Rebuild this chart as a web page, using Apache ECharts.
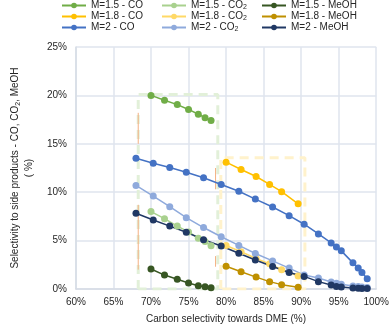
<!DOCTYPE html>
<html>
<head>
<meta charset="utf-8">
<script src="https://cdn.jsdelivr.net/npm/echarts@6/dist/echarts.min.js"></script>
<style>
  html, body { margin: 0; padding: 0; background: #fff; }
  #chart { width: 392px; height: 329px; }
</style>
</head>
<body>
<div id="chart"></div>
<script>
// carbon selectivity towards DME (%) for each stoichiometric number M
const x15 = [70.0, 71.8, 73.5, 75.0, 76.3, 77.2, 78.0]
const x18 = [80.0, 82.0, 84.0, 85.8, 87.4, 89.6]
const x2 = [68.0, 70.3, 72.5, 74.7, 77.0, 79.35, 81.7, 83.9, 86.2, 88.4, 90.4, 92.3, 94.0, 94.7, 95.35, 96.9, 97.6, 98.1, 98.8]

// side-product selectivity (%)
const co15 = [20.0, 19.5, 19.05, 18.55, 18.05, 17.7, 17.4]
const co2_15 = [8.0, 7.27, 6.5, 5.9, 5.25, 4.9, 4.46]
const meoh15 = [2.06, 1.44, 1.0, 0.62, 0.34, 0.24, 0.13]

const co18 = [13.1, 12.35, 11.62, 10.8, 10.05, 8.8]
const co2_18 = [4.5, 3.85, 3.15, 2.6, 2.0, 1.35]
const meoh18 = [2.35, 1.78, 1.23, 0.76, 0.45, 0.17]

const co2M = [13.5, 13.0, 12.55, 12.07, 11.5, 10.8, 10.1, 9.29, 8.47, 7.58, 6.69, 5.69, 4.76, 4.35, 3.94, 2.7, 2.16, 1.71, 1.06]
const co2_2 = [10.7, 9.6, 8.5, 7.37, 6.35, 5.4, 4.5, 3.67, 2.9, 2.16, 1.44, 1.13, 0.72, 0.6, 0.5, 0.3, 0.25, 0.2, 0.15]
const meoh2 = [7.82, 7.13, 6.5, 5.86, 5.1, 4.44, 3.7, 3.0, 2.33, 1.7, 1.3, 0.76, 0.41, 0.27, 0.2, 0.1, 0.08, 0.05, 0.05]

const names = [
  'M=1.5 - CO', 'M=1.5 - CO2', 'M=1.5 - MeOH',
  'M=1.8 - CO', 'M=1.8 - CO2', 'M=1.8 - MeOH',
  'M=2 - CO', 'M=2 - CO2', 'M=2 - MeOH'
]
const colors = [
  '#70ad47', '#a9d18e', '#375623',
  '#ffc000', '#ffd966', '#bf9000',
  '#4472c4', '#8faadc', '#203864'
]
const xs = [x15, x15, x15, x18, x18, x18, x2, x2, x2]
const ys = [co15, co2_15, meoh15, co18, co2_18, meoh18, co2M, co2_2, meoh2]

// highlighted regions (corners in axis units) and thin marker segments
const boxM15 = [[68.3, 0], [68.3, 20.1], [78.9, 20.1], [78.9, 0], [68.3, 0]]
const boxM18 = [[79.3, 0], [79.3, 13.55], [90.5, 13.55], [90.5, 0], [79.3, 0]]
const markSegs = [
  [[68.3, 18.2], [68.3, 15.0]],
  [[68.3, 8.7], [68.3, 2.0]],
  [[78.6, 12.5], [78.6, 10.3]],
  [[78.6, 3.4], [78.6, 2.3]]
]

const chart = echarts.init(document.getElementById('chart'))

const FONT = 'Liberation Sans, Arial'
const TXT = '#262626'
const fmtName = name => name.replace('CO2', 'CO{sub|2}')
const legendText = {
  fontFamily: FONT, fontSize: 10, color: TXT, lineHeight: 11,
  rich: { sub: { fontFamily: FONT, fontSize: 7, verticalAlign: 'bottom', padding: [5, 0, 0, 0], color: TXT } }
}
const legendCol = (left, idx) => ({
  left: left, top: 0, orient: 'vertical', padding: 0,
  itemWidth: 24, itemHeight: 7, itemGap: 0,
  data: idx.map(i => names[i]),
  formatter: fmtName,
  textStyle: legendText
})

const series = []
series.push({
  type: 'line', data: boxM15, symbol: 'none', silent: true, z: 1,
  lineStyle: { color: '#e2f0d9', width: 3, type: [9, 6] }
})
series.push({
  type: 'line', data: boxM18, symbol: 'none', silent: true, z: 1,
  lineStyle: { color: '#fff2cc', width: 3, type: [9, 6] }
})
markSegs.forEach(seg => series.push({
  type: 'line', data: seg, symbol: 'none', silent: true, z: 1,
  lineStyle: { color: '#f4b183', width: 1 }
}))
names.forEach((name, i) => series.push({
  name: name,
  type: 'line',
  data: xs[i].map((x, k) => [x, ys[i][k]]),
  symbol: 'circle',
  symbolSize: 7,
  z: 3,
  itemStyle: { color: colors[i] },
  lineStyle: { color: colors[i], width: 1.5 }
}))

const option = {
  animation: false,
  legend: [legendCol(61, [0, 3, 6]), legendCol(161, [1, 4, 7]), legendCol(261, [2, 5, 8])],
  grid: { left: 54, right: 14, top: 47, bottom: 39 },
  xAxis: {
    type: 'value', min: 60, max: 100, interval: 5,
    name: 'Carbon selectivity towards DME (%)',
    nameLocation: 'middle', nameGap: 25,
    nameTextStyle: { fontFamily: FONT, fontSize: 10, color: TXT },
    axisLine: { lineStyle: { color: '#d6dce5', width: 1.5 } },
    axisTick: { show: false },
    axisLabel: { formatter: '{value}%', fontFamily: FONT, fontSize: 10, color: TXT, margin: 8 },
    splitLine: { lineStyle: { color: '#dfe4ee', width: 1.5 } }
  },
  yAxis: {
    type: 'value', min: 0, max: 25, interval: 5,
    name: '{t|Selectivity to side products - CO, CO}{sub|2}{t|, MeOH}\n{t|( %)}',
    nameLocation: 'middle', nameGap: 22,
    nameTextStyle: {
      fontFamily: FONT, fontSize: 10, color: TXT, lineHeight: 14,
      rich: {
        t: { fontFamily: FONT, fontSize: 10, color: TXT, lineHeight: 14 },
        sub: { fontFamily: FONT, fontSize: 7, color: TXT, verticalAlign: 'bottom', padding: [5, 0, 0, 0], lineHeight: 14 }
      }
    },
    axisLine: { show: true, lineStyle: { color: '#d6dce5', width: 1.5 } },
    axisTick: { show: false },
    axisLabel: { formatter: '{value}%', fontFamily: FONT, fontSize: 10, color: TXT, margin: 9 },
    splitLine: { lineStyle: { color: '#dfe4ee', width: 1.5 } }
  },
  series: series
}

chart.setOption(option)
</script>
</body>
</html>
